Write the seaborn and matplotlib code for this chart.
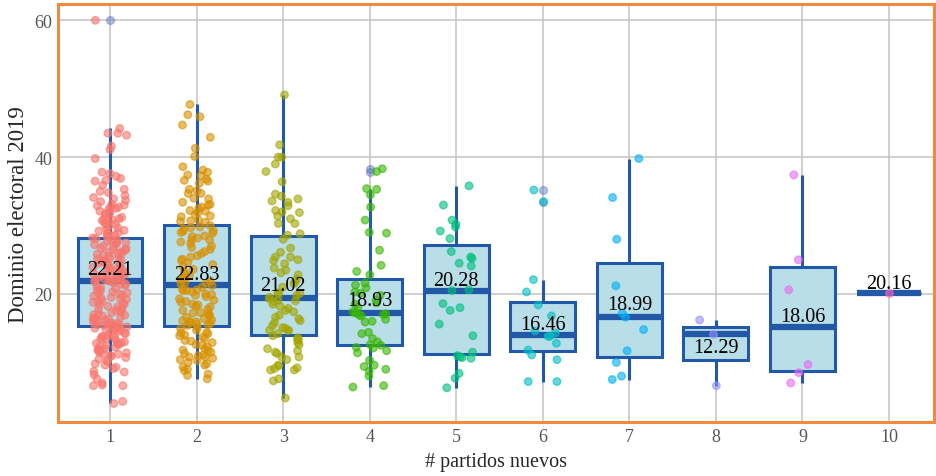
import numpy as np
import pandas as pd
import matplotlib
matplotlib.use("Agg")
import matplotlib.pyplot as plt
import seaborn as sns

# valores (dominio electoral 2019 por # de partidos nuevos)
groups = ["1", "2", "3", "4", "5", "6", "7", "8", "9", "10"]

g1 = [60.0, 44.2, 43.5, 43.5, 43.2, 41.6, 41.1, 39.8, 37.8, 37.6, 37.2, 36.9, 36.6, 36.5,
      35.9, 35.3, 35.0, 34.8, 34.4, 34.1, 33.9, 33.7, 33.5, 33.1, 33.0, 32.9, 32.7, 32.7,
      32.5, 32.4, 32.1, 31.9, 31.8, 31.7, 31.5, 31.2, 31.0, 30.9, 30.8, 30.7, 30.5, 30.4,
      30.2, 30.1, 29.9, 29.7, 29.5, 29.3, 29.2, 29.0, 28.9, 28.8, 28.6, 28.5, 28.4,
      28.2, 28.1, 27.9, 27.9, 27.6, 27.5, 27.3, 27.2, 27.0, 26.9, 26.7, 26.6, 26.4, 26.2,
      26.1, 26.0, 25.8, 25.7, 25.5, 25.4, 25.2, 25.1, 24.9, 24.8, 24.7, 24.5, 24.4, 24.2,
      24.1, 24.0, 23.8, 23.7, 23.5, 23.4, 23.3, 23.1, 23.0, 22.9, 22.8, 22.7, 22.6, 22.5,
      22.4, 22.3, 22.2, 22.1, 22.1, 22.0, 27.7, 26.5, 25.9, 25.0, 24.6, 23.9, 23.2,
      21.9, 21.8, 21.8, 21.6, 21.4, 21.3, 21.1, 20.9, 20.8, 20.6, 20.5, 20.3, 20.1, 20.0,
      19.8, 19.7, 19.5, 19.3, 19.2, 19.0, 18.9, 18.7, 18.5, 18.4, 18.2, 18.1, 17.9, 17.8,
      17.6, 17.4, 17.3, 17.1, 17.0, 16.8, 16.7, 16.5, 16.4, 16.2, 16.1, 16.0, 15.9, 15.8,
      15.7, 15.6, 15.5, 15.4, 15.4, 21.5, 20.2, 19.4, 18.8, 17.7, 16.9, 16.3, 15.6,
      4.3, 4.0, 6.6, 6.6, 7.0, 6.7, 7.6, 8.6, 8.7, 9.3, 9.8, 9.6, 10.3, 10.5, 11.0, 10.9,
      11.3, 11.2, 11.9, 11.7, 12.0, 12.5, 12.4, 13.0, 12.9, 12.8, 13.4, 13.5, 13.9, 13.8,
      14.4, 14.3, 14.8, 14.9, 15.2, 15.1, 15.0, 14.6, 14.2, 14.0, 13.7, 13.2, 12.7, 12.2,
      11.8, 11.4, 10.7, 10.1, 9.1, 8.2, 15.2, 14.7, 13.6, 12.6, 11.5]
g2 = [47.7, 46.2, 45.9, 44.7, 42.9, 41.3, 40.1, 38.6, 38.1, 37.8, 37.3, 37.4, 36.8, 36.6,
      36.5, 36.2, 35.3, 35.1, 34.7, 34.7, 33.9, 34.0, 33.1, 33.0, 33.4, 32.7, 32.2, 32.1,
      31.9, 31.6, 31.4, 31.3, 30.8, 30.7, 30.6, 30.5, 32.5,
      30.0, 29.8, 29.7, 29.2, 29.2, 29.0, 28.5, 28.4, 27.9, 27.9, 27.4, 26.5, 25.9, 25.4,
      24.9, 24.6, 24.3, 23.6, 22.9, 22.7, 21.9, 21.7, 21.6, 29.5, 28.9, 28.2, 27.6, 27.0,
      26.8, 26.2, 25.6, 25.1, 24.0, 23.2, 22.4, 22.1, 21.5,
      21.2, 20.7, 20.6, 20.5, 20.5, 20.0, 19.9, 19.8, 19.3, 19.1, 18.8, 18.5, 18.4, 18.1,
      17.8, 17.3, 17.2, 17.1, 17.0, 16.8, 16.4, 16.1, 16.0, 15.9, 15.6, 15.5, 15.4, 21.0,
      20.3, 19.6, 18.9, 18.2, 17.6, 16.6, 16.2, 15.8, 15.7,
      15.1, 14.9, 14.4, 14.3, 14.2, 13.9, 13.7, 13.2, 13.1, 12.9, 12.6, 12.5, 12.0, 11.8,
      11.7, 11.5, 11.3, 11.0, 10.8, 10.8, 10.4, 10.3, 9.8, 9.6, 9.3, 8.3, 8.1, 7.6, 14.7,
      14.0, 13.5, 12.3, 11.1, 10.6, 10.0, 9.0, 8.8]
g3 = [49.1, 41.8, 40.0, 40.0, 39.0, 37.9, 36.4, 34.6, 34.3, 33.9, 33.6, 33.4, 32.9, 32.2,
      32.0, 31.9, 31.4, 31.0, 30.3, 30.3, 28.8, 28.6, 28.0, 26.7, 26.1, 25.4, 25.4, 25.0,
      24.4, 23.8, 23.1, 22.2, 21.5, 21.0, 20.2, 20.0, 20.1, 19.5, 19.8, 19.0, 18.9, 19.1,
      17.6, 17.4, 16.4, 16.1, 16.6, 15.4, 15.1, 15.0, 14.7, 14.7, 14.7, 13.6, 13.4, 13.3,
      12.9, 12.6, 12.0, 11.7, 11.5, 11.3, 10.8, 10.8, 10.4, 9.6, 9.5, 9.2, 8.9, 8.9, 9.1,
      7.6, 7.3, 4.8, 24.9, 23.5, 22.8, 21.8, 19.3, 18.5, 18.2, 17.9, 16.9, 15.8, 14.2, 13.9]
g4 = [38.3, 37.9, 35.4, 35.3, 34.5, 32.7, 30.8, 29.0, 28.9, 26.4, 24.2, 23.3, 22.8, 21.6,
      21.3, 20.9, 20.3, 20.1, 19.8, 19.1, 18.7, 18.5, 18.1, 17.4, 17.3, 17.2, 17.1, 17.0,
      16.9, 16.8, 16.3, 16.0, 15.9, 14.4, 14.2, 13.5, 13.0, 12.6, 12.5, 12.2, 12.1, 11.7,
      11.4, 10.3, 9.6, 9.4, 9.0, 8.7, 8.0, 6.6, 6.4]
g5 = [35.8, 33.0, 30.8, 30.2, 29.8, 29.2, 28.1, 26.2, 25.2, 25.4, 24.5, 24.1, 20.6, 20.5,
      18.6, 18.0, 17.6, 15.6, 13.9, 11.5, 11.0, 10.8, 10.7, 10.6, 7.7, 8.4, 6.3]
g6 = [35.2, 33.5, 22.1, 20.3, 18.4, 16.8, 14.6, 14.3, 13.8, 13.8, 12.8, 11.8, 11.1, 10.4,
      7.2, 7.2]
g7 = [39.8, 34.1, 28.0, 21.2, 17.2, 16.6, 14.8, 11.7, 10.0, 8.0, 7.5]
g8 = [16.2, 14.1, 6.6]
g9 = [37.4, 25.0, 20.6, 9.7, 8.5, 7.0]
g10 = [20.16]

mean_labels = [22.21, 22.83, 21.02, 18.93, 20.28, 16.46, 18.99, 12.29, 18.06, 20.16]
label_nudge = [0.64, -0.58, -0.37, -0.48, 0.97, -1.51, -1.14, -0.74, -2.01, 0.69]

palette = ["#F8766D", "#D89000", "#A3A500", "#39B600", "#00BF7D",
           "#00BFC4", "#00B0F6", "#9590FF", "#E76BF3", "#FF62BC"]

rows = []
for name, vals in zip(groups, [g1, g2, g3, g4, g5, g6, g7, g8, g9, g10]):
    rows += [(name, v) for v in vals]
df = pd.DataFrame(rows, columns=["nuevos", "dominio"])

sns.set_style("white")
plt.rcParams["font.family"] = ["Liberation Serif", "DejaVu Serif"]

fig = plt.figure(figsize=(9.36, 4.77), dpi=100)
ax = fig.add_axes([0.0617, 0.1126, 0.9362, 0.8763])

sns.boxplot(data=df, x="nuevos", y="dominio", order=groups, width=0.75,
            color="#B8DEE8", linecolor="#2159A8", linewidth=2.2, showcaps=False,
            boxprops=dict(facecolor="#B8DEE8"),
            medianprops=dict(linewidth=4.5),
            flierprops=dict(marker="o", markersize=5.6, markerfacecolor="#4A66BE",
                            markeredgecolor="#4A66BE", alpha=0.4),
            ax=ax)

# puntos encima de las cajas, como en el original
np.random.seed(7)
sns.stripplot(data=df, x="nuevos", y="dominio", hue="nuevos", order=groups,
              hue_order=groups, palette=palette, jitter=0.2, size=5.4, alpha=0.6,
              linewidth=1, edgecolor="face", legend=False, ax=ax, zorder=3)

for i, (m, dy) in enumerate(zip(mean_labels, label_nudge)):
    ax.text(i, m + dy, f"{m:.2f}", ha="center", va="baseline", fontsize=14.5,
            color="black", zorder=6)

ax.set_xlim(-0.604, 9.52)
ax.set_ylim(1.25, 62.34)
ax.set_yticks([20, 40, 60])
ax.grid(True, color="#C4C4C4", linewidth=1.1)
ax.set_axisbelow(True)
for sp in ax.spines.values():
    sp.set_visible(True)
    sp.set_color("#F28A3E")
    sp.set_linewidth(2.2)
ax.tick_params(length=2.5, width=1, color="#333333", labelcolor="#555555",
               labelsize=13, pad=1.5)
ax.set_xlabel("# partidos nuevos", fontsize=14.5, labelpad=5)
ax.set_ylabel("Dominio electoral 2019", fontsize=16.5, labelpad=4)

fig.savefig("out.png", dpi=100)
